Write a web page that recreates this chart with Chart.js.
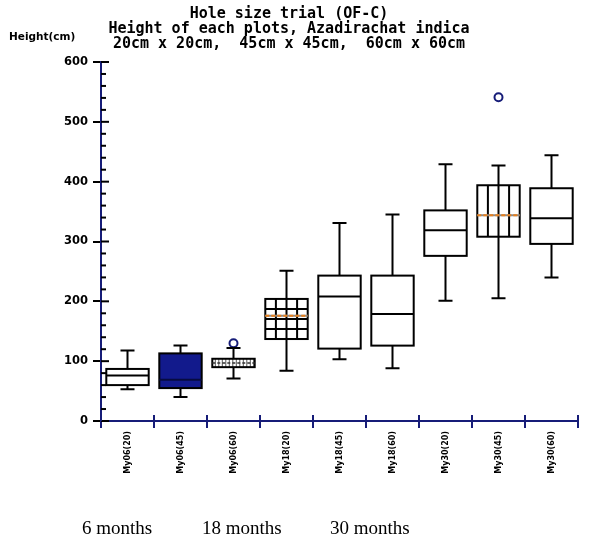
<!DOCTYPE html>
<html>
<head>
<meta charset="utf-8">
<title>Hole size trial (OF-C)</title>
<script src="https://cdn.jsdelivr.net/npm/chart.js@4"></script>
<style>
  html, body { margin: 0; padding: 0; background: #fff; }
  #wrap { width: 612px; height: 550px; }
</style>
</head>
<body>
<div id="wrap"><canvas id="heightChart" width="612" height="550"></canvas></div>
<script>
// plots: age (months) and hole size (cm)
const categories = ["My06(20)", "My06(45)", "My06(60)", "My18(20)", "My18(45)", "My18(60)", "My30(20)", "My30(45)", "My30(60)"];

// height (cm) five-number summaries per plot
const minVals    = [53, 40, 71, 84, 103, 88, 201, 205, 240];
const q1Vals     = [60, 55, 90, 137, 121, 126, 276, 308, 296];
const medianVals = [76, 69, 97, 176, 208, 179, 319, 344, 339];
const q3Vals     = [87, 113, 104, 204, 243, 243, 352, 394, 389];
const maxVals    = [118, 126, 122, 251, 331, 345, 429, 427, 444];
const outlierVals = [null, null, 130, null, null, null, null, 541, null];

const periodLabels = ["6 months", "18 months", "30 months"];

const titleLines = [
    "Hole size trial (OF-C)",
    "Height of each plots, Azadirachat indica",
    "20cm x 20cm,  45cm x 45cm,  60cm x 60cm"
];

const NAVY = "#161c78";

// fill style / median style for each box
const boxFills   = ["#ffffff", "#121a8c", "#ffffff", "#ffffff", "#ffffff", "#ffffff", "#ffffff", "#ffffff", "#ffffff"];
const boxPattern = [null, null, "fine", "grid", null, null, null, "vlines", null];
const medianKind = ["solid", "dark", "dashed", "orange", "solid", "solid", "solid", "orange", "solid"];

const boxPlugin = {
    id: "boxWhiskers",
    afterDatasetsDraw(chart) {
        const ctx = chart.ctx;
        const y = chart.scales.y;
        const bars = chart.getDatasetMeta(0).data;

        ctx.save();
        bars.forEach((bar, i) => {
            const cx = bar.x;
            const half = bar.width / 2;
            const left = cx - half, right = cx + half;
            const top = y.getPixelForValue(q3Vals[i]);
            const bottom = y.getPixelForValue(q1Vals[i]);
            const med = y.getPixelForValue(medianVals[i]);

            // inner patterns
            ctx.save();
            ctx.beginPath();
            ctx.rect(left, top, right - left, bottom - top);
            ctx.clip();
            if (boxPattern[i] === "grid") {
                ctx.strokeStyle = "#000";
                ctx.lineWidth = 2;
                const cw = (right - left) / 4;
                for (let k = 1; k < 4; k++) {
                    ctx.beginPath();
                    ctx.moveTo(left + k * cw, top);
                    ctx.lineTo(left + k * cw, bottom);
                    ctx.stroke();
                }
                for (let py = top + 10; py < bottom; py += 10) {
                    ctx.beginPath();
                    ctx.moveTo(left, py);
                    ctx.lineTo(right, py);
                    ctx.stroke();
                }
            } else if (boxPattern[i] === "vlines") {
                ctx.strokeStyle = "#000";
                ctx.lineWidth = 2;
                const cw = (right - left) / 4;
                for (let k = 1; k < 4; k++) {
                    ctx.beginPath();
                    ctx.moveTo(left + k * cw, top);
                    ctx.lineTo(left + k * cw, bottom);
                    ctx.stroke();
                }
            } else if (boxPattern[i] === "fine") {
                ctx.strokeStyle = "#555";
                ctx.lineWidth = 1;
                for (let px = left + 3; px < right; px += 3.5) {
                    ctx.beginPath();
                    ctx.moveTo(px, top);
                    ctx.lineTo(px, bottom);
                    ctx.stroke();
                }
            }
            ctx.restore();

            // box outline again over the pattern
            ctx.strokeStyle = "#000";
            ctx.lineWidth = 2;
            ctx.strokeRect(left, top, right - left, bottom - top);

            // median
            ctx.beginPath();
            ctx.moveTo(left, med);
            ctx.lineTo(right, med);
            if (medianKind[i] === "orange") {
                ctx.strokeStyle = "#8a8a8a";
                ctx.lineWidth = 2;
                ctx.stroke();
                ctx.setLineDash([4, 2]);
                ctx.strokeStyle = "#e8801c";
                ctx.stroke();
                ctx.setLineDash([]);
            } else if (medianKind[i] === "dashed") {
                ctx.strokeStyle = "#333";
                ctx.lineWidth = 1.5;
                ctx.setLineDash([3, 2]);
                ctx.stroke();
                ctx.setLineDash([]);
            } else if (medianKind[i] === "dark") {
                ctx.strokeStyle = "#070b40";
                ctx.lineWidth = 2;
                ctx.stroke();
            } else {
                ctx.strokeStyle = "#000";
                ctx.lineWidth = 2;
                ctx.stroke();
            }

            // whiskers and caps
            const capHalf = 7;
            const yMax = y.getPixelForValue(maxVals[i]);
            const yMin = y.getPixelForValue(minVals[i]);
            ctx.strokeStyle = "#000";
            ctx.lineWidth = 2;
            ctx.beginPath();
            ctx.moveTo(cx, top);
            ctx.lineTo(cx, yMax);
            ctx.moveTo(cx - capHalf, yMax);
            ctx.lineTo(cx + capHalf, yMax);
            ctx.moveTo(cx, bottom);
            ctx.lineTo(cx, yMin);
            ctx.moveTo(cx - capHalf, yMin);
            ctx.lineTo(cx + capHalf, yMin);
            ctx.stroke();
        });
        ctx.restore();
    },
    afterDraw(chart) {
        const ctx = chart.ctx;
        const y = chart.scales.y;
        const x = chart.scales.x;
        const axisX = chart.chartArea.left;
        const axisY = chart.chartArea.bottom;

        ctx.save();
        // inner half of the major y ticks and the minor ticks
        ctx.strokeStyle = "#000";
        ctx.lineWidth = 2;
        for (let v = 0; v <= 600; v += 20) {
            const py = y.getPixelForValue(v);
            ctx.beginPath();
            ctx.moveTo(axisX, py);
            ctx.lineTo(axisX + (v % 100 === 0 ? 8 : 5), py);
            ctx.stroke();
        }
        // upper half of the x ticks at category boundaries
        ctx.strokeStyle = NAVY;
        for (let k = 0; k <= categories.length; k++) {
            const px = x.getPixelForValue(k - 0.5);
            ctx.beginPath();
            ctx.moveTo(px, axisY);
            ctx.lineTo(px, axisY - 6);
            ctx.stroke();
        }

        // y axis unit
        ctx.fillStyle = "#000";
        ctx.font = "bold 10.5px 'DejaVu Sans'";
        ctx.textAlign = "left";
        ctx.textBaseline = "middle";
        ctx.fillText("Height(cm)", 9, 37);

        // growth periods under the plots
        ctx.font = "19px 'Liberation Serif'";
        ctx.textBaseline = "alphabetic";
        const periodX = [82, 202, 330];
        periodLabels.forEach((t, k) => ctx.fillText(t, periodX[k], 534));
        ctx.restore();
    }
};

new Chart(document.getElementById("heightChart"), {
    type: "bar",
    data: {
        labels: categories,
        datasets: [
            {
                label: "Height",
                data: q1Vals.map((q1, i) => [q1, q3Vals[i]]),
                backgroundColor: boxFills,
                borderColor: "#000",
                borderWidth: 0,
                borderSkipped: false,
                barPercentage: 0.8,
                categoryPercentage: 1
            },
            {
                type: "line",
                label: "Outliers",
                data: outlierVals,
                showLine: false,
                pointRadius: 4,
                pointBorderWidth: 2,
                pointBorderColor: NAVY,
                pointBackgroundColor: "#fff"
            }
        ]
    },
    options: {
        responsive: false,
        animation: false,
        layout: { padding: { left: 0, right: 34, top: 0, bottom: 0 } },
        plugins: {
            legend: { display: false },
            tooltip: { enabled: false },
            title: {
                display: true,
                text: titleLines,
                color: "#000",
                font: { family: "'DejaVu Sans Mono'", size: 15, weight: "bold", lineHeight: 1.0 },
                padding: { top: 7, bottom: 10 }
            }
        },
        scales: {
            x: {
                afterFit(scale) { scale.height = 129; },
                grid: {
                    offset: true,
                    drawOnChartArea: false,
                    drawTicks: true,
                    tickLength: 7,
                    color: NAVY,
                    lineWidth: 2
                },
                border: { display: true, color: NAVY, width: 2 },
                ticks: {
                    color: "#000",
                    font: { family: "'DejaVu Sans'", size: 8, weight: "bold" },
                    minRotation: 90,
                    maxRotation: 90,
                    autoSkip: false,
                    padding: 3
                }
            },
            y: {
                min: 0,
                max: 600,
                afterFit(scale) { scale.width = 101; },
                grid: {
                    drawOnChartArea: false,
                    drawTicks: true,
                    tickLength: 8,
                    color: "#000",
                    lineWidth: 2
                },
                border: { display: true, color: NAVY, width: 2 },
                ticks: {
                    stepSize: 100,
                    color: "#000",
                    font: { family: "'DejaVu Sans'", size: 11.5, weight: "bold" },
                    padding: 5
                }
            }
        }
    },
    plugins: [boxPlugin]
});
</script>
</body>
</html>
